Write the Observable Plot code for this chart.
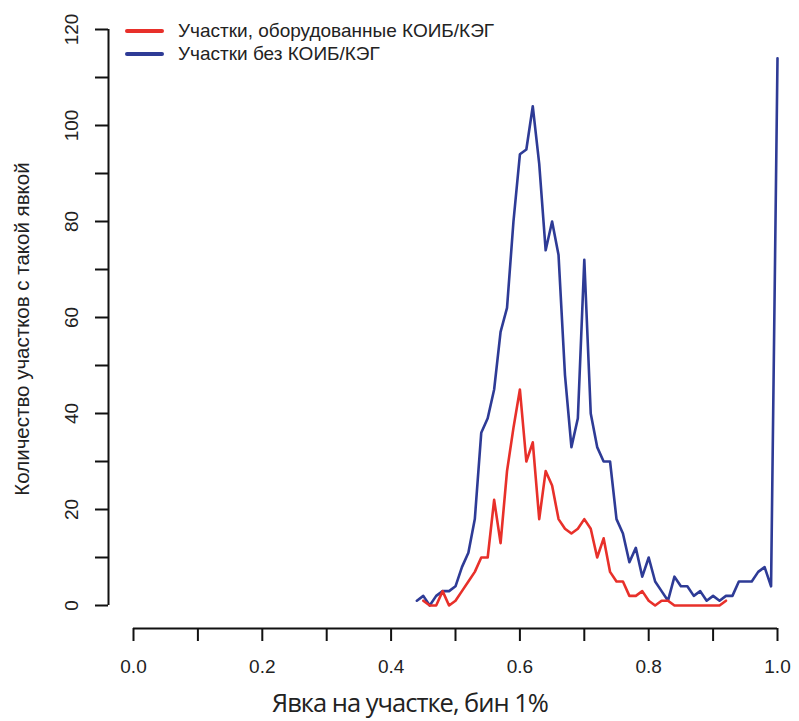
<!DOCTYPE html>
<html>
<head>
<meta charset="utf-8">
<script src="https://cdn.jsdelivr.net/npm/d3@7"></script>
<script src="https://cdn.jsdelivr.net/npm/@observablehq/plot@0.6"></script>
<style>
  html, body { margin: 0; padding: 0; background: #fff; }
  #wrap { position: relative; width: 799px; height: 721px; overflow: hidden; }
  #wrap svg { position: absolute; left: 0; top: 0; }
  #legend { position: absolute; left: 0; top: 0; font-family: "Liberation Sans", Arial, sans-serif; font-size: 19px; color: #222; }
  .item { position: absolute; left: 125px; height: 22px; white-space: nowrap; }
  .sw { position: absolute; left: 0; top: 9px; width: 39px; height: 4px; border-radius: 2px; }
  .lt { position: absolute; left: 53px; top: 0; line-height: 22px; }
  #xtitle { position: absolute; left: 410px; top: 689px; transform: translateX(-50%); font-family: "Open Sans", sans-serif; font-size: 25.5px; letter-spacing: -1px; color: #222; white-space: nowrap; line-height: 26px; }
</style>
</head>
<body>
<div id="wrap"></div>
<script>
// ---- data ----
const blueBins = [0.44,0.45,0.46,0.47,0.48,0.49,0.50,0.51,0.52,0.53,0.54,0.55,0.56,0.57,0.58,0.59,0.60,0.61,0.62,0.63,0.64,0.65,0.66,0.67,0.68,0.69,0.70,0.71,0.72,0.73,0.74,0.75,0.76,0.77,0.78,0.79,0.80,0.81,0.82,0.83,0.84,0.85,0.86,0.87,0.88,0.89,0.90,0.91,0.92,0.93,0.94,0.95,0.96,0.97,0.98,0.99,1.00];
const blueCounts = [1,2,0,2,3,3,4,8,11,18,36,39,45,57,62,80,94,95,104,92,74,80,73,48,33,39,72,40,33,30,30,18,15,9,12,6,10,5,3,1,6,4,4,2,3,1,2,1,2,2,5,5,5,7,8,4,114];
const redBins = [0.45,0.46,0.47,0.48,0.49,0.50,0.51,0.52,0.53,0.54,0.55,0.56,0.57,0.58,0.59,0.60,0.61,0.62,0.63,0.64,0.65,0.66,0.67,0.68,0.69,0.70,0.71,0.72,0.73,0.74,0.75,0.76,0.77,0.78,0.79,0.80,0.81,0.82,0.83,0.84,0.85,0.86,0.87,0.88,0.89,0.90,0.91,0.92];
const redCounts = [1,0,0,3,0,1,3,5,7,10,10,22,13,28,37,45,30,34,18,28,25,18,16,15,16,18,16,10,14,7,5,5,2,2,3,1,0,1,1,0,0,0,0,0,0,0,0,1];
const xTicks = [0,0.1,0.2,0.3,0.4,0.5,0.6,0.7,0.8,0.9,1.0];
const xLabels = ["0.0","","0.2","","0.4","","0.6","","0.8","","1.0"];
const yTicks = [0,10,20,30,40,50,60,70,80,90,100,110,120];
const yLabels = ["0","","20","","40","","60","","80","","100","","120"];
const seriesNames = ["Участки, оборудованные КОИБ/КЭГ", "Участки без КОИБ/КЭГ"];
const seriesColors = ["#e8302a", "#2e3b96"];
const xTitle = "Явка на участке, бин 1%";
const yTitle = "Количество участков с такой явкой";

const red = redBins.map((b, i) => ({bin: b, count: redCounts[i]}));
const blue = blueBins.map((b, i) => ({bin: b, count: blueCounts[i]}));

const plot = Plot.plot({
  width: 799,
  height: 721,
  marginLeft: 108,
  marginRight: 22,
  marginTop: 29,
  marginBottom: 93,
  x: {domain: [0, 1], insetLeft: 25},
  y: {domain: [0, 120], insetBottom: 23},
  style: {fontFamily: "'Liberation Sans', Arial, sans-serif", fontSize: "19px", color: "#222", background: "white"},
  marks: [
    Plot.ruleY([0], {x1: 0, x2: 1, dy: 23, stroke: "#111", strokeWidth: 2}),
    Plot.axisX(xTicks, {anchor: "bottom", tickSize: 13, tickPadding: 18, strokeWidth: 2, stroke: "#111",
      tickFormat: d => xLabels[xTicks.indexOf(d)], label: null}),
    Plot.ruleX([0], {y1: 0, y2: 120, dx: -25, stroke: "#111", strokeWidth: 2}),
    Plot.axisY(yTicks, {anchor: "left", tickSize: 13, tickPadding: 18, tickRotate: -90, strokeWidth: 2, stroke: "#111",
      tickFormat: d => yLabels[yTicks.indexOf(d)], label: null}),
    Plot.axisY({anchor: "left", ticks: [], label: yTitle, labelAnchor: "center", labelArrow: "none",
      labelOffset: 94, fontSize: 20.5}),
    Plot.line(blue, {x: "bin", y: "count", stroke: seriesColors[1], strokeWidth: 2.6, strokeLinejoin: "round"}),
    Plot.line(red, {x: "bin", y: "count", stroke: seriesColors[0], strokeWidth: 2.6, strokeLinejoin: "round"})
  ]
});

const wrap = document.getElementById("wrap");
wrap.appendChild(plot);

const legend = document.createElement("div");
legend.id = "legend";
seriesNames.forEach((name, i) => {
  const item = document.createElement("div");
  item.className = "item";
  item.style.top = (20 + i * 23) + "px";
  const sw = document.createElement("div");
  sw.className = "sw";
  sw.style.background = seriesColors[i];
  const lt = document.createElement("div");
  lt.className = "lt";
  lt.textContent = name;
  item.appendChild(sw);
  item.appendChild(lt);
  legend.appendChild(item);
});
wrap.appendChild(legend);

const xt = document.createElement("div");
xt.id = "xtitle";
xt.textContent = xTitle;
wrap.appendChild(xt);
</script>
</body>
</html>
